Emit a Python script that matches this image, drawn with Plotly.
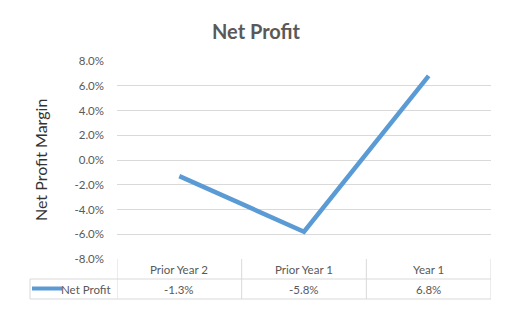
import plotly.graph_objects as go

categories = ["Prior Year 2", "Prior Year 1", "Year 1"]
net_profit = [-1.3, -5.8, 6.8]
series_name = "Net Profit"
y_ticks = [-8, -6, -4, -2, 0, 2, 4, 6, 8]

W, H = 513, 313
BLUE = "#5B9BD5"
GRID = "#D9D9D9"
TXT = "#595959"
FONT = "Lato"

def px(x):
    return x / W

def py(y):
    return 1 - y / H

fig = go.Figure()
fig.add_trace(go.Scatter(
    x=categories, y=net_profit, mode="lines",
    line=dict(color=BLUE, width=4.5), name=series_name, showlegend=False,
    hoverinfo="skip",
))

shapes = []
line_style = dict(color=GRID, width=1)
t_top, t_mid, t_bot = py(259), py(279), py(299)
left_cell = px(30)
n = len(categories)
edges = [i - 0.5 for i in range(n + 1)]
for e in edges:
    shapes.append(dict(type="line", xref="x", yref="paper", x0=e, x1=e, y0=t_bot, y1=t_top, line=line_style))
shapes.append(dict(type="line", xref="paper", yref="paper", x0=left_cell, x1=left_cell, y0=t_bot, y1=t_mid, line=line_style))
for yy in (t_mid, t_bot):
    shapes.append(dict(type="line", xref="paper", yref="paper", x0=left_cell, x1=px(491), y0=yy, y1=yy, line=line_style))
shapes.append(dict(type="line", xref="paper", yref="paper", x0=px(32), x1=px(62), y0=py(288.5), y1=py(288.5),
                   line=dict(color=BLUE, width=4)))

annotations = []
cell_font = dict(family=FONT, size=11.5, color=TXT)
for c, v in zip(categories, net_profit):
    annotations.append(dict(x=c, y=py(269), xref="x", yref="paper", text=c, showarrow=False,
                            yanchor="middle", font=cell_font))
    annotations.append(dict(x=c, y=py(289), xref="x", yref="paper", text=f"{v:.1f}%", showarrow=False,
                            yanchor="middle", font=cell_font))
annotations.append(dict(x=px(113), y=py(289), xref="paper", yref="paper", text=series_name, showarrow=False,
                        xanchor="right", yanchor="middle", font=cell_font))
annotations.append(dict(x=px(40), y=py(160), xref="paper", yref="paper", text="Net Profit Margin", showarrow=False,
                        textangle=-90, xanchor="center", yanchor="middle",
                        font=dict(family=FONT, size=16, color="#333333")))
annotations.append(dict(x=px(256), y=py(31), xref="paper", yref="paper", text="<b>Net Profit</b>", showarrow=False,
                        xanchor="center", yanchor="middle",
                        font=dict(family=FONT, size=20, color=TXT)))

fig.update_layout(
    width=W, height=H, margin=dict(l=0, r=0, t=0, b=0),
    paper_bgcolor="white", plot_bgcolor="white",
    shapes=shapes, annotations=annotations,
    xaxis=dict(domain=[px(117), px(491)], type="category", range=[-0.5, n - 0.5],
               showticklabels=False, showgrid=False, zeroline=False, showline=False, ticks=""),
    yaxis=dict(domain=[py(259), py(61)], range=[-8, 8], tickvals=y_ticks,
               ticktext=[f"{t:.1f}%" for t in y_ticks],
               showgrid=True, gridcolor=GRID, gridwidth=1, zeroline=False, showline=False,
               ticks="", ticklabelstandoff=12, automargin=False,
               tickfont=dict(family=FONT, size=11.5, color=TXT)),
)

fig.write_html("out.html")
